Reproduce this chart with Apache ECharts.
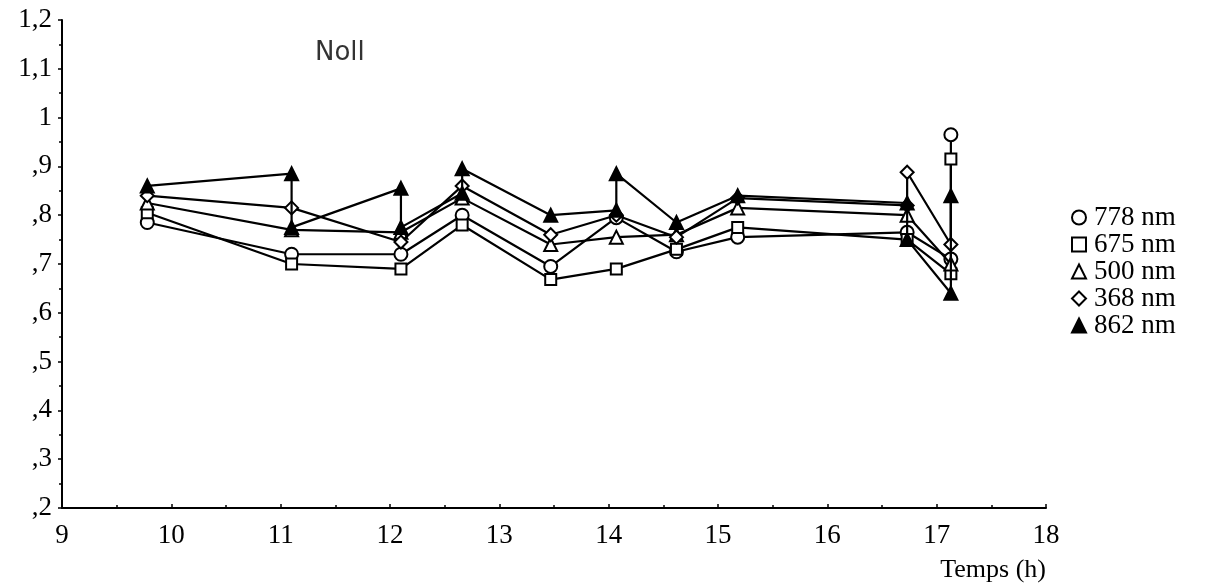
<!DOCTYPE html>
<html><head><meta charset="utf-8">
<script src="https://cdn.jsdelivr.net/npm/echarts@6/dist/echarts.min.js"></script>
<style>html,body{margin:0;padding:0;background:#fff}#c{width:1227px;height:588px}</style>
</head><body><div id="c"></div>
<script>
// Data (time in hours, relative value)
const names = ['778 nm', '675 nm', '500 nm', '368 nm', '862 nm'];
const t778 = [9.78, 11.1, 12.1, 12.66, 13.47, 14.07, 14.62, 15.18, 16.73, 17.13, 17.13];
const v778 = [0.785, 0.72, 0.72, 0.80, 0.695, 0.795, 0.725, 0.755, 0.765, 0.71, 0.965];
const t675 = [9.78, 11.1, 12.1, 12.66, 13.47, 14.07, 14.62, 15.18, 16.73, 17.13, 17.13];
const v675 = [0.805, 0.70, 0.69, 0.78, 0.668, 0.69, 0.73, 0.775, 0.75, 0.68, 0.915];
const t500 = [9.78, 11.1, 12.1, 12.66, 13.47, 14.07, 14.62, 15.18, 16.73, 17.13];
const v500 = [0.825, 0.77, 0.765, 0.835, 0.74, 0.755, 0.76, 0.815, 0.80, 0.70];
const t368 = [9.78, 11.1, 12.1, 12.66, 13.47, 14.07, 14.62, 15.18, 16.73, 16.73, 17.13];
const v368 = [0.84, 0.815, 0.745, 0.86, 0.76, 0.80, 0.755, 0.835, 0.82, 0.888, 0.74];
const t862 = [9.78, 11.1, 11.1, 12.1, 12.1, 12.66, 12.66, 13.47, 14.07, 14.07, 14.62, 15.18, 16.73, 16.73, 17.13, 17.13];
const v862 = [0.86, 0.885, 0.775, 0.855, 0.775, 0.845, 0.895, 0.80, 0.81, 0.885, 0.785, 0.84, 0.825, 0.75, 0.64, 0.84];
const xTitle = 'Temps (h)';
const chartLabel = 'Noll';

const pair = (t, v) => t.map((x, i) => [x, v[i]]);
const symbols = ['circle', 'rect', 'triangle', 'diamond', 'triangle'];
const fills = ['#fff', '#fff', '#fff', '#fff', '#000'];
const dataSets = [pair(t778, v778), pair(t675, v675), pair(t500, v500), pair(t368, v368), pair(t862, v862)];

const serif = 'Liberation Serif';
const chart = echarts.init(document.getElementById('c'), null, {renderer: 'canvas'});
chart.setOption({
  animation: false,
  backgroundColor: '#fff',
  title: {
    text: chartLabel, left: 310, top: 35,
    textStyle: {fontFamily: 'DejaVu Sans', fontWeight: 'normal', fontSize: 26, color: '#333'}
  },
  grid: {left: 62, right: 181, top: 20, bottom: 80, containLabel: false},
  legend: {
    orient: 'vertical', left: 1066, top: 199, itemGap: 0,
    itemWidth: 14, itemHeight: 14,
    textStyle: {fontFamily: serif, fontSize: 27, color: '#000', lineHeight: 27, padding: [0, 0, 0, 3]},
    data: names.map((n, i) => ({name: n, icon: symbols[i]}))
  },
  xAxis: {
    type: 'value', min: 9, max: 18, interval: 1,
    name: xTitle, nameLocation: 'end', nameGap: 0,
    nameTextStyle: {fontFamily: serif, fontSize: 26, color: '#000', align: 'right', verticalAlign: 'top', padding: [49, 0, 0, 0]},
    axisLine: {lineStyle: {color: '#000', width: 2}},
    axisTick: {show: true, inside: true, length: 4, lineStyle: {color: '#000', width: 1.5}},
    minorTick: {show: true, splitNumber: 2, length: 3, lineStyle: {color: '#000', width: 1.5}},
    splitLine: {show: false},
    axisLabel: {fontFamily: serif, fontSize: 27, color: '#000', margin: 14}
  },
  yAxis: {
    type: 'value', min: 0.2, max: 1.2, interval: 0.1,
    axisLine: {show: true, lineStyle: {color: '#000', width: 2}},
    axisTick: {show: true, inside: false, length: 4, lineStyle: {color: '#000', width: 1.5}},
    minorTick: {show: true, splitNumber: 2, length: 3, lineStyle: {color: '#000', width: 1.5}},
    splitLine: {show: false},
    axisLabel: {
      fontFamily: serif, fontSize: 27, color: '#000', margin: 10,
      formatter: v => {
        const k = Math.round(v * 10);
        if (k >= 10) return (k % 10 === 0) ? String(k / 10) : (Math.floor(k / 10) + ',' + (k % 10));
        return ',' + k;
      }
    }
  },
  series: names.map((n, i) => ({
    name: n, type: 'line', data: dataSets[i],
    symbol: symbols[i], symbolSize: i === 1 ? 11 : 13,
    showAllSymbol: true,
    lineStyle: {color: '#000', width: 2.2},
    itemStyle: {color: fills[i], borderColor: '#000', borderWidth: 2},
    z: 2 + i
  }))
});
</script>
</body></html>
